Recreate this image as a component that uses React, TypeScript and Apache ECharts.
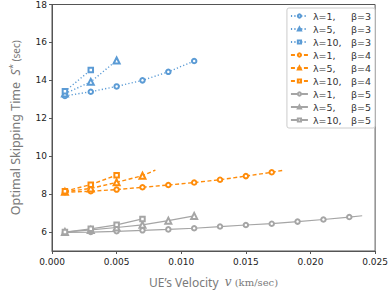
import React, { useEffect, useRef } from "react";
import * as echarts from "echarts";

const xTicks = [0, 0.005, 0.01, 0.015, 0.02, 0.025];
const yTicks = [6, 8, 10, 12, 14, 16, 18];

// beta = 3 (blue)
const b3l1X = [0.001, 0.003, 0.005, 0.007, 0.009, 0.011];
const b3l1Y = [13.18, 13.4, 13.68, 14.0, 14.45, 15.02];
const b3l5X = [0.001, 0.003, 0.005];
const b3l5Y = [13.3, 13.92, 15.05];
const b3l10X = [0.001, 0.003];
const b3l10Y = [13.42, 14.55];

// beta = 4 (orange); last point without marker where line extends
const b4l1X = [0.001, 0.003, 0.005, 0.007, 0.009, 0.011, 0.013, 0.015, 0.017, 0.018];
const b4l1Y = [8.1, 8.15, 8.24, 8.36, 8.48, 8.61, 8.76, 8.95, 9.15, 9.27];
const b4l1Marks = 9;
const b4l5X = [0.001, 0.003, 0.005, 0.007, 0.008];
const b4l5Y = [8.12, 8.3, 8.62, 8.97, 9.27];
const b4l5Marks = 4;
const b4l10X = [0.001, 0.003, 0.005];
const b4l10Y = [8.15, 8.5, 9.0];

// beta = 5 (gray)
const b5l1X = [0.001, 0.003, 0.005, 0.007, 0.009, 0.011, 0.013, 0.015, 0.017, 0.019, 0.021, 0.023, 0.024];
const b5l1Y = [5.98, 6.0, 6.04, 6.09, 6.14, 6.2, 6.29, 6.37, 6.44, 6.55, 6.66, 6.79, 6.86];
const b5l1Marks = 12;
const b5l5X = [0.001, 0.003, 0.005, 0.007, 0.009, 0.011];
const b5l5Y = [6.0, 6.11, 6.24, 6.38, 6.6, 6.85];
const b5l10X = [0.001, 0.003, 0.005, 0.007];
const b5l10Y = [6.0, 6.17, 6.38, 6.69];

const lambdas = ["λ=1,", "λ=5,", "λ=10,"];

const BLUE = "#5b9bd5";
const ORANGE = "#ff8c0a";
const GRAY = "#a5a5a5";

function mkData(xs: number[], ys: number[], marks?: number) {
  const m = marks === undefined ? xs.length : marks;
  return xs.map((x, i) =>
    i < m ? { value: [x, ys[i]] } : { value: [x, ys[i]], symbol: "none" }
  );
}

export default function App() {
  const ref = useRef<HTMLDivElement>(null);
  useEffect(() => {
    if (!ref.current) return;
    const chart = echarts.init(ref.current, undefined, { renderer: "svg" });

    const groups = [
      { beta: 3, color: BLUE, type: [1.2, 2.2] as any, width: 1.4, sets: [[b3l1X, b3l1Y, undefined], [b3l5X, b3l5Y, undefined], [b3l10X, b3l10Y, undefined]] },
      { beta: 4, color: ORANGE, type: [4, 2.5] as any, width: 1.4, sets: [[b4l1X, b4l1Y, b4l1Marks], [b4l5X, b4l5Y, b4l5Marks], [b4l10X, b4l10Y, undefined]] },
      { beta: 5, color: GRAY, type: "solid" as any, width: 1.2, sets: [[b5l1X, b5l1Y, b5l1Marks], [b5l5X, b5l5Y, undefined], [b5l10X, b5l10Y, undefined]] },
    ];
    const symbols = ["emptyCircle", "emptyTriangle", "emptyRect"];
    const sizes = [4.5, 6, 4.5];

    const series: any[] = [];
    groups.forEach((g) => {
      g.sets.forEach((s: any, li) => {
        series.push({
          type: "line",
          name: `${lambdas[li]}|β=${g.beta}`,
          data: mkData(s[0], s[1], s[2]),
          symbol: symbols[li],
          symbolSize: sizes[li],
          showSymbol: true,
          color: g.color,
          lineStyle: { color: g.color, width: g.width, type: g.type },
          itemStyle: { color: g.color, borderColor: g.color, borderWidth: 0.8 },
          z: 3,
        });
      });
    });

    const labelColor = "#7a7a7a";

    chart.setOption({
      animation: false,
      grid: {
        left: 41,
        right: 10,
        top: 4,
        bottom: 36,
        show: true,
        borderColor: "#555",
        borderWidth: 1,
        backgroundColor: "transparent",
      },
      legend: {
        orient: "vertical",
        right: 16,
        top: 8,
        itemWidth: 17,
        itemHeight: 4,
        itemGap: 3,
        padding: [3, 4, 3, 3],
        borderColor: "#cccccc",
        borderWidth: 1,
        borderRadius: 2,
        backgroundColor: "#fff",
        formatter: (name: string) => {
          const [a, b] = name.split("|");
          return `{a|${a}}{b|${b}}`;
        },
        textStyle: {
          fontFamily: "DejaVu Sans",
          fontSize: 9.5,
          color: "#333",
          rich: {
            a: { width: 38, fontSize: 9.5, lineHeight: 11, fontFamily: "DejaVu Sans", color: "#333" },
            b: { fontSize: 9.5, lineHeight: 11, fontFamily: "DejaVu Sans", color: "#333" },
          },
        },
      },
      xAxis: {
        type: "value",
        min: 0,
        max: 0.025,
        interval: 0.005,
        splitLine: { show: false },
        axisLine: { show: true, onZero: false, lineStyle: { color: "#555" } },
        axisTick: { show: true, length: 3, lineStyle: { color: "#555" } },
        axisLabel: {
          customValues: xTicks,
          formatter: (v: number) => v.toFixed(3),
          fontFamily: "DejaVu Sans",
          fontSize: 9,
          color: "#222",
          margin: 6,
        },
        name: "{a|UE’s Velocity  }{v|v}{b| (km/sec)}",
        nameLocation: "middle",
        nameGap: 25,
        nameTextStyle: {
          color: labelColor,
          rich: {
            a: { fontFamily: "Noto Sans", fontSize: 12, color: labelColor },
            v: { fontFamily: "DejaVu Serif", fontStyle: "italic", fontSize: 12, color: labelColor },
            b: { fontFamily: "DejaVu Serif", fontSize: 10, color: labelColor },
          },
        },
      },
      yAxis: {
        type: "value",
        min: 5,
        max: 18,
        splitLine: { show: false },
        axisLine: { show: true, lineStyle: { color: "#555" } },
        axisTick: { show: true, length: 3, customValues: yTicks, lineStyle: { color: "#555" } },
        axisLabel: {
          customValues: yTicks,
          fontFamily: "DejaVu Sans",
          fontSize: 9,
          color: "#222",
          margin: 5,
        },
        name: "{a|Optimal Skipping Time  }{s|S}{sup|*}{b| (sec)}",
        nameLocation: "middle",
        nameGap: 29,
        nameTextStyle: {
          color: labelColor,
          rich: {
            a: { fontFamily: "Noto Sans", fontSize: 12.5, color: labelColor },
            s: { fontFamily: "Noto Sans", fontStyle: "italic", fontSize: 12.5, color: labelColor },
            sup: { fontFamily: "Noto Sans", fontSize: 9, color: labelColor, verticalAlign: "top", padding: [0, 0, 6, 0] },
            b: { fontFamily: "Noto Sans", fontSize: 10, color: labelColor },
          },
        },
      },
      series,
    });
    return () => chart.dispose();
  }, []);
  return (
    <div
      ref={ref}
      style={{ position: "fixed", left: 0, top: 0, width: 391, height: 293, background: "#fff" }}
    />
  );
}
